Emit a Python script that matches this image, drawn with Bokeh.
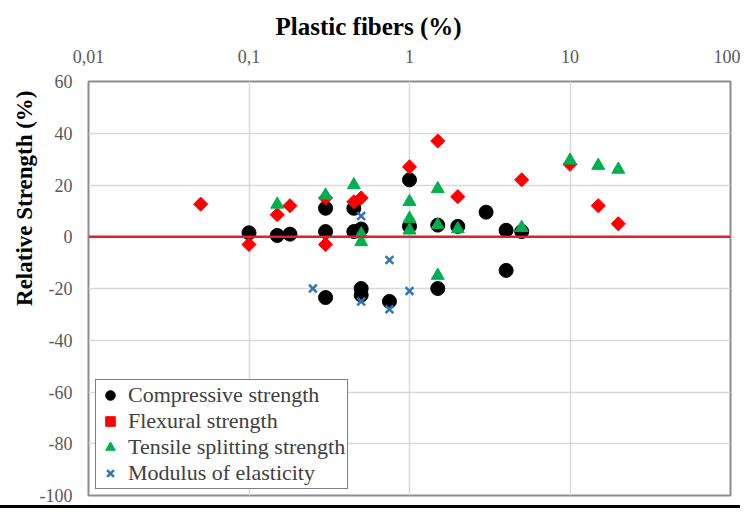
from bokeh.plotting import figure
from bokeh.models import Span, FixedTicker, Legend, LegendItem, Title
from bokeh.embed import file_html
from bokeh.resources import INLINE
import numpy as np

# ---- data ----
comp_x = [0.1, 0.15, 0.18, 0.3, 0.3, 0.3, 0.45, 0.45, 0.5, 0.5, 0.5, 0.75, 1, 1, 1.5, 1.5, 2, 3, 4, 4, 5]
comp_y = [1.5, 0.5, 1, 11, 2, -23.5, 11, 2, 3, -20, -22.5, -25, 22, 4, 4.5, -20, 4, 9.5, 2.5, -13, 2]

flex_x = [0.05, 0.1, 0.15, 0.18, 0.3, 0.3, 0.45, 0.5, 1, 1.5, 2, 5, 10, 15, 20]
flex_y = [12.6, -3, 8.5, 12, 15, -3, 13.5, 15, 27, 37, 15.5, 22, 28, 12, 5]

tens_x = [0.15, 0.3, 0.45, 0.5, 0.5, 1, 1, 1, 1.5, 1.5, 1.5, 2, 5, 10, 15, 20]
tens_y = [12.5, 16, 20, 1, -2, 13.5, 7, 2.5, 18.5, 4.5, -15, 3, 3.5, 29.5, 27.5, 26]

mod_x = [0.25, 0.5, 0.5, 0.75, 0.75, 1]
mod_y = [-20, 8, -25, -9, -28, -21]

x_ticks = [0.01, 0.1, 1, 10, 100]
x_tick_labels = ["0,01", "0,1", "1", "10", "100"]
y_ticks = [60, 40, 20, 0, -20, -40, -60, -80, -100]
y_tick_labels = ["60", "40", "20", "0", "-20", "-40", "-60", "-80", "-100"]

FONT = "Liberation Serif"

p = figure(width=740, height=505, x_axis_type="log", x_range=(0.01, 100), y_range=(-100, 60),
           x_axis_location="above", output_backend="svg", toolbar_location=None,
           min_border_left=88, min_border_top=81, min_border_right=10, min_border_bottom=10)
p.styles = {"box-shadow": "-3px 0 0 0 black, 0 -2px 0 0 black, 0 3px 0 0 black"}

p.title.text = "Plastic fibers (%)"
p.title.align = "left"
p.title.offset = 187
p.title.standoff = 14
p.title.text_font = FONT
p.title.text_font_size = "25px"
p.title.text_font_style = "bold"
p.title.text_color = "black"

# axes
xa = p.xaxis[0]
xa.ticker = FixedTicker(ticks=x_ticks, minor_ticks=[])
xa.major_label_overrides = {t: l for t, l in zip(x_ticks, x_tick_labels)}
ya = p.yaxis[0]
ya.ticker = FixedTicker(ticks=y_ticks, minor_ticks=[])
ya.major_label_overrides = {t: l for t, l in zip(y_ticks, y_tick_labels)}
for ax in (xa, ya):
    ax.axis_line_color = None
    ax.major_tick_line_color = None
    ax.minor_tick_line_color = None
    ax.major_tick_out = 0
    ax.major_tick_in = 0
    ax.major_label_text_font = FONT
    ax.major_label_text_font_size = "18px"
    ax.major_label_text_color = "#595959"
xa.major_label_standoff = 19
ya.major_label_standoff = 16

# y-axis title, placed like the reference (upper part of the left side)
p.add_layout(Title(text="Relative Strength (%)", align="right", offset=9, standoff=0,
                   text_font=FONT, text_font_size="23px", text_font_style="bold",
                   text_color="black"), "left")

p.xgrid.ticker = FixedTicker(ticks=x_ticks, minor_ticks=[])
p.ygrid.ticker = FixedTicker(ticks=y_ticks, minor_ticks=[])
p.xgrid.grid_line_color = "#D9D9D9"
p.ygrid.grid_line_color = "#D9D9D9"
p.xgrid.grid_line_width = 1.5
p.ygrid.grid_line_width = 1.5

p.outline_line_color = "#8C8C8C"
p.outline_line_width = 2

p.add_layout(Span(location=0, dimension="width", line_color="#E0202A", line_width=2.5))

r_comp = p.scatter(comp_x, comp_y, marker="circle", size=14, fill_color="black", line_color="black")
r_flex = p.scatter(flex_x, flex_y, marker="square", angle=np.pi / 4, size=10,
                   fill_color="#FF0000", line_color="#FF0000")
r_tens = p.scatter(tens_x, tens_y, marker="triangle", size=13, fill_color="#00B050", line_color="#00B050")
r_mod = p.scatter(mod_x, mod_y, marker="x", size=11, line_color="#2E75B6", line_width=2.5)

legend = Legend(items=[
    LegendItem(label="Compressive strength", renderers=[r_comp]),
    LegendItem(label="Flexural strength", renderers=[r_flex]),
    LegendItem(label="Tensile splitting strength", renderers=[r_tens]),
    LegendItem(label="Modulus of elasticity", renderers=[r_mod]),
], location=(7, 6))
legend.border_line_color = "black"
legend.border_line_width = 1.5
legend.background_fill_color = "white"
legend.background_fill_alpha = 1
legend.label_text_font = FONT
legend.label_text_font_size = "22px"
legend.label_text_color = "#404040"
legend.glyph_width = 24
legend.glyph_height = 24
legend.label_standoff = 6
legend.label_height = 20
legend.spacing = 0
legend.padding = 2
legend.margin = 0
p.add_layout(legend, "center")

open("out.html", "w").write(file_html(p, INLINE))
